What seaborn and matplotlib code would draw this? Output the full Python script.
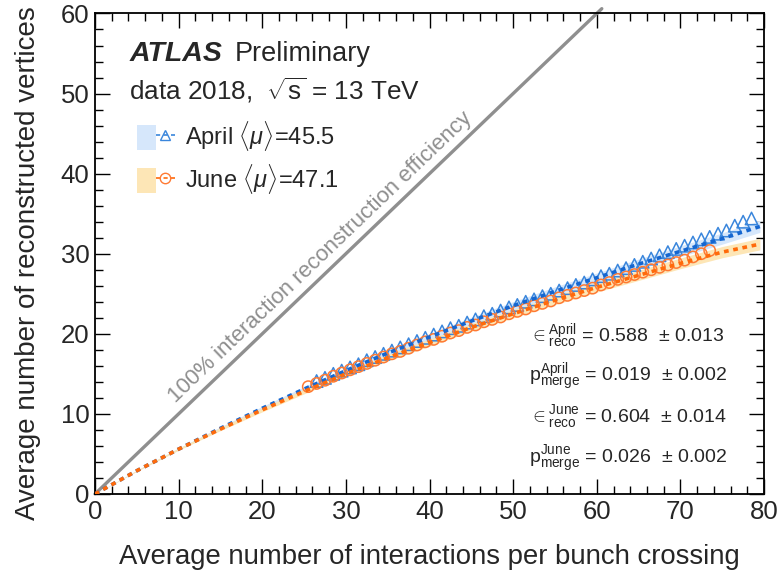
import numpy as np
import pandas as pd
import matplotlib
matplotlib.use("Agg")
import matplotlib.pyplot as plt
import seaborn as sns
from matplotlib.patches import Patch
from matplotlib.lines import Line2D
from matplotlib.legend_handler import HandlerTuple
from matplotlib.ticker import MultipleLocator

# ---- measured vertex multiplicity vs pile-up ----
mu_april = [26.5, 27.5, 28.5, 29.5, 30.5, 31.5, 32.5, 33.5, 34.5, 35.5,
            36.5, 37.5, 38.5, 39.5, 40.5, 41.5, 42.5, 43.5, 44.5, 45.5,
            46.5, 47.5, 48.5, 49.5, 50.5, 51.5, 52.5, 53.5, 54.5, 55.5,
            56.5, 57.5, 58.5, 59.5, 60.5, 61.5, 62.5, 63.5, 64.5, 65.5,
            66.5, 67.5, 68.5, 69.5, 70.5, 71.5, 72.5, 73.5, 74.5, 75.5,
            76.5, 77.5, 78.5]
nvtx_april = [14.1, 14.5, 15.0, 15.4, 15.8, 16.2, 16.7, 17.1, 17.5, 17.9,
              18.3, 18.7, 19.1, 19.5, 19.9, 20.3, 20.7, 21.0, 21.4, 21.8,
              22.2, 22.5, 22.9, 23.3, 23.6, 24.0, 24.3, 24.7, 25.0, 25.4,
              25.7, 26.1, 26.4, 26.8, 27.2, 27.5, 27.9, 28.2, 28.6, 29.0,
              29.4, 29.8, 30.2, 30.6, 31.0, 31.4, 31.8, 32.1, 32.5, 32.9,
              33.5, 34.0, 34.4]

mu_june = [25.5, 26.5, 27.5, 28.5, 29.5, 30.5, 31.5, 32.5, 33.5, 34.5,
           35.5, 36.5, 37.5, 38.5, 39.5, 40.5, 41.5, 42.5, 43.5, 44.5,
           45.5, 46.5, 47.5, 48.5, 49.5, 50.5, 51.5, 52.5, 53.5, 54.5,
           55.5, 56.5, 57.5, 58.5, 59.5, 60.5, 61.5, 62.5, 63.5, 64.5,
           65.5, 66.5, 67.5, 68.5, 69.5, 70.5, 71.5, 72.5, 73.5]
nvtx_june = [13.4, 13.8, 14.2, 14.7, 15.1, 15.5, 15.9, 16.3, 16.7, 17.1,
             17.5, 17.8, 18.2, 18.6, 19.0, 19.3, 19.7, 20.1, 20.4, 20.8,
             21.1, 21.5, 21.8, 22.1, 22.5, 22.8, 23.1, 23.5, 23.8, 24.1,
             24.5, 24.8, 25.1, 25.4, 25.7, 26.1, 26.4, 26.8, 27.1, 27.4,
             27.7, 28.0, 28.3, 28.6, 28.9, 29.2, 29.6, 30.0, 30.4]

# ---- fitted model curves ----
mu_fit = [0, 5, 10, 15, 20, 25, 30, 35, 40, 45, 50, 55, 60, 65, 70, 75, 79.5]
fit_april = [0, 2.9, 5.6, 8.2, 10.7, 13.1, 15.4, 17.6, 19.6, 21.6, 23.5,
             25.3, 27.0, 28.7, 30.3, 31.9, 33.4]
fit_june = [0, 2.9, 5.6, 8.1, 10.5, 12.8, 15.0, 17.0, 18.9, 20.8, 22.5,
            24.2, 25.8, 27.3, 28.8, 30.2, 31.2]

# fit parameters
eps_april, eps_april_err = 0.588, 0.013
pm_april, pm_april_err = 0.019, 0.002
eps_june, eps_june_err = 0.604, 0.014
pm_june, pm_june_err = 0.026, 0.002

mean_mu_april = 45.5
mean_mu_june = 47.1

# ---- style ----
sns.set_theme(style="ticks")
main_font = "Liberation Sans"
plt.rcParams["font.family"] = [main_font, "DejaVu Sans"]
plt.rcParams["mathtext.fontset"] = "custom"
plt.rcParams["mathtext.rm"] = main_font
plt.rcParams["mathtext.it"] = main_font + ":italic"
plt.rcParams["mathtext.bf"] = main_font + ":bold"

c_april_line = "#1566d0"
c_april_mark = "#3a86dc"
c_april_band = "#d6e7fb"
c_june_line = "#ff6a0a"
c_june_mark = "#ff7a33"
c_june_band = "#fde6b6"
c_diag = "#8f8f8f"

fig = plt.figure(figsize=(7.83, 5.83), dpi=100)
ax = fig.add_axes([0.1213, 0.1527, 0.8545, 0.8242])

df_fit = pd.DataFrame({"mu": mu_fit, "april": fit_april, "june": fit_june})
df_a = pd.DataFrame({"mu": mu_april, "n": nvtx_april})
df_j = pd.DataFrame({"mu": mu_june, "n": nvtx_june})

# uncertainty bands scaled by the relative efficiency error
rel_a = eps_april_err / eps_april
rel_j = eps_june_err / eps_june
fa = np.array(fit_april)
fj = np.array(fit_june)
ax.fill_between(mu_fit, fa * (1 - rel_a), fa * (1 + rel_a), color=c_april_band, lw=0, zorder=1)
ax.fill_between(mu_fit, fj * (1 - rel_j), fj * (1 + rel_j), color=c_june_band, lw=0, zorder=1.1)

# 100% efficiency reference
diag = [0, 60.6]
sns.lineplot(x=diag, y=diag, ax=ax, color=c_diag, lw=2.4, clip_on=False, zorder=2)
ax.text(26.9, 29.6, "100% interaction reconstruction efficiency", rotation=43.7,
        rotation_mode="anchor", ha="center", va="center", color=c_diag, fontsize=16)

# data markers
sns.scatterplot(data=df_a, x="mu", y="n", ax=ax, marker="^", s=80,
                facecolor="none", edgecolor=c_april_mark, linewidth=1.1, zorder=3)
sns.scatterplot(data=df_j, x="mu", y="n", ax=ax, marker="o", s=66,
                facecolor="none", edgecolor=c_june_mark, linewidth=1.1, zorder=3)

# fit curves
sns.lineplot(data=df_fit, x="mu", y="april", ax=ax, color=c_april_line, lw=2.6,
             zorder=4).lines[-1].set_dashes((1.3, 1.3))
sns.lineplot(data=df_fit, x="mu", y="june", ax=ax, color=c_june_line, lw=2.6,
             zorder=4.1).lines[-1].set_dashes((1.3, 1.3))

ax.set_xlim(0, 80)
ax.set_ylim(0, 60)
ax.xaxis.set_major_locator(MultipleLocator(10))
ax.xaxis.set_minor_locator(MultipleLocator(2))
ax.yaxis.set_major_locator(MultipleLocator(10))
ax.yaxis.set_minor_locator(MultipleLocator(2))
ax.tick_params(which="both", direction="in", top=True, right=True,
               color="black", width=1.0, labelsize=18.5, pad=4)
ax.tick_params(which="major", length=11)
ax.tick_params(which="minor", length=5.5)
for s in ax.spines.values():
    s.set_linewidth(1.3)
    s.set_color("black")

ax.set_xlabel("Average number of interactions per bunch crossing", fontsize=19.8)
ax.set_ylabel("Average number of reconstructed vertices", fontsize=20)
ax.xaxis.set_label_coords(0.5, -0.105)
ax.yaxis.set_label_coords(-0.081, 0.48)

# header
ax.text(0.051, 0.901, "ATLAS", transform=ax.transAxes, fontsize=20.5,
        fontweight="bold", fontstyle="italic", va="baseline")
ax.text(0.209, 0.901, "Preliminary", transform=ax.transAxes, fontsize=19.5,
        va="baseline")
ax.text(0.051, 0.820, r"data 2018,  $\sqrt{\mathrm{s}}$ = 13 TeV",
        transform=ax.transAxes, fontsize=18.8, va="baseline")

# legend with band behind line + marker
h_a = (Patch(facecolor=c_april_band, edgecolor="none"),
       Line2D([], [], color=c_april_mark, lw=1.2, ls=(0, (2.5, 2)),
              marker="^", markersize=7.5, markerfacecolor="none",
              markeredgecolor=c_april_mark))
h_j = (Patch(facecolor=c_june_band, edgecolor="none"),
       Line2D([], [], color=c_june_line, lw=1.2, ls=(0, (2.5, 2)),
              marker="o", markersize=7.5, markerfacecolor="none",
              markeredgecolor=c_june_mark))
ax.legend([h_a, h_j],
          [r"April $\langle\mu\rangle$=%.1f" % mean_mu_april,
           r"June $\langle\mu\rangle$=%.1f" % mean_mu_june],
          handler_map={tuple: HandlerTuple(ndivide=None, pad=0)},
          loc="upper left", bbox_to_anchor=(0.0628, 0.78), frameon=False,
          fontsize=17, handlelength=1.6, handleheight=1.25,
          labelspacing=0.38, handletextpad=0.45, borderaxespad=0, borderpad=0)

# fit parameters
fs_fit = 14.0
ax.text(0.649, 0.317, r"$\in^{\mathrm{April}}_{\mathrm{reco}}$ = %.3f  $\pm$ %.3f"
        % (eps_april, eps_april_err), transform=ax.transAxes, fontsize=fs_fit,
        va="baseline")
ax.text(0.649, 0.232, r"$\mathrm{p}^{\mathrm{April}}_{\mathrm{merge}}$ = %.3f  $\pm$ %.3f"
        % (pm_april, pm_april_err), transform=ax.transAxes, fontsize=fs_fit,
        va="baseline")
ax.text(0.649, 0.149, r"$\in^{\mathrm{June}}_{\mathrm{reco}}$ = %.3f  $\pm$ %.3f"
        % (eps_june, eps_june_err), transform=ax.transAxes, fontsize=fs_fit,
        va="baseline")
ax.text(0.649, 0.064, r"$\mathrm{p}^{\mathrm{June}}_{\mathrm{merge}}$ = %.3f  $\pm$ %.3f"
        % (pm_june, pm_june_err), transform=ax.transAxes, fontsize=fs_fit,
        va="baseline")

fig.savefig("out.png", dpi=100)
